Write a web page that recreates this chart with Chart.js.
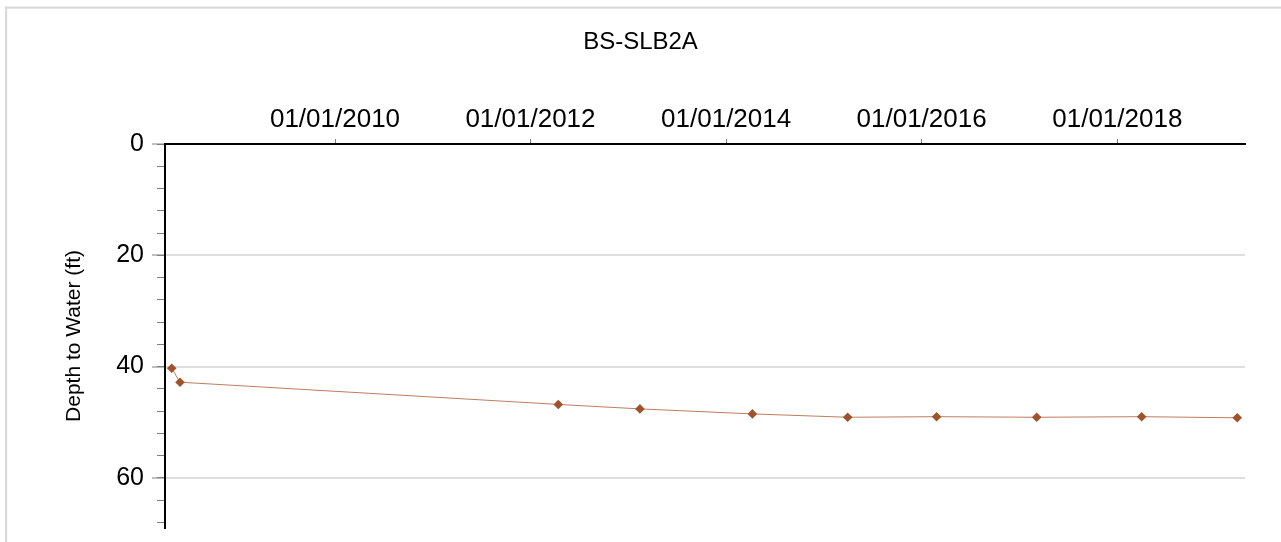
<!DOCTYPE html>
<html>
<head>
<meta charset="utf-8">
<title>BS-SLB2A</title>
<script src="https://cdn.jsdelivr.net/npm/chart.js@4/dist/chart.umd.min.js"></script>
<style>
  html, body { margin: 0; padding: 0; background: #ffffff; overflow: hidden; }
  #wrap { position: relative; width: 1281px; height: 542px; }
  canvas { display: block; }
</style>
</head>
<body>
<div id="wrap"><canvas id="chart" width="1281" height="542"></canvas></div>
<script>
// Well BS-SLB2A: measurement dates and depth to water (ft below ground)
const measureDates = ['2008-05-01', '2008-06-01', '2012-04-14', '2013-02-13', '2014-04-09',
                      '2015-03-31', '2016-02-26', '2017-03-06', '2018-04-02', '2019-03-25'];
const depthFt = [40.3, 42.8, 46.8, 47.6, 48.5, 49.1, 49.0, 49.1, 49.0, 49.2];

// Date axis labels along the top edge
const dateTicks = ['2010-01-01', '2012-01-01', '2014-01-01', '2016-01-01', '2018-01-01'];
// Depth axis: labelled every 20 ft, minor marks every 4 ft
const depthMajorStep = 20;
const depthMinorStep = 4;

const xMin = Date.UTC(2008, 3, 6);
const xMax = Date.UTC(2019, 3, 23);
const yMax = 69;

const toTime = s => new Date(s + 'T00:00:00Z').getTime();
const fmtDate = v => {
  const d = new Date(v);
  const mm = String(d.getUTCMonth() + 1).padStart(2, '0');
  const dd = String(d.getUTCDate()).padStart(2, '0');
  return mm + '/' + dd + '/' + d.getUTCFullYear();
};

const points = measureDates.map((s, i) => ({ x: toTime(s), y: depthFt[i] }));

// Light grey frame around the figure
const framePlugin = {
  id: 'frame',
  beforeDraw(chart) {
    const c = chart.ctx;
    c.save();
    c.fillStyle = '#ffffff';
    c.fillRect(0, 0, chart.width, chart.height);
    c.fillStyle = '#d9d9d9';
    c.fillRect(5, 6.5, 2.2, chart.height);
    c.fillRect(5, 6.5, chart.width, 2.2);
    c.restore();
  }
};

// Keep axis boxes from reserving room for label overhang
const noOverhang = scale => {
  scale.paddingTop = 0;
  scale.paddingBottom = 0;
  scale.paddingLeft = 0;
  scale.paddingRight = 0;
};

const FONT = "'Liberation Sans', Arial, Helvetica, sans-serif";

new Chart(document.getElementById('chart'), {
  type: 'line',
  data: {
    datasets: [{
      label: 'Depth to Water (ft)',
      data: points,
      borderColor: '#bd7d62',
      borderWidth: 1,
      backgroundColor: '#a0522d',
      pointStyle: 'rectRot',
      pointRadius: 4.8,
      pointBorderWidth: 0,
      pointBackgroundColor: '#a0522d',
      tension: 0,
      yAxisID: 'y'
    }]
  },
  plugins: [framePlugin],
  options: {
    responsive: false,
    animation: false,
    events: [],
    layout: { padding: { left: 0, top: 0, right: 0, bottom: 14 } },
    plugins: {
      legend: { display: false },
      tooltip: { enabled: false },
      title: {
        display: true,
        text: 'BS-SLB2A',
        color: '#000000',
        font: { family: FONT, size: 24, weight: 'normal' },
        padding: { top: 28, bottom: 9 }
      }
    },
    scales: {
      x: {
        type: 'linear',
        position: 'top',
        min: xMin,
        max: xMax,
        afterBuildTicks: scale => { scale.ticks = dateTicks.map(s => ({ value: toTime(s) })); },
        afterFit: scale => { scale.height = 78.2; noOverhang(scale); },
        ticks: {
          autoSkip: false,
          maxRotation: 0,
          padding: 4,
          color: '#000000',
          font: { family: FONT, size: 26 },
          callback: v => fmtDate(v)
        },
        grid: {
          drawOnChartArea: false,
          drawTicks: true,
          tickLength: 5,
          tickColor: '#808080',
          tickWidth: 1
        },
        border: { display: true, color: '#000000', width: 2 }
      },
      y: {
        type: 'linear',
        position: 'left',
        reverse: true,
        min: 0,
        max: yMax,
        weight: 1,
        afterFit: scale => { scale.width = 165; noOverhang(scale); },
        title: {
          display: true,
          text: 'Depth to Water (ft)',
          color: '#000000',
          font: { family: FONT, size: 21 },
          padding: { top: 62, bottom: 0 }
        },
        ticks: {
          stepSize: depthMajorStep,
          includeBounds: false,
          padding: 8,
          color: '#000000',
          font: { family: FONT, size: 25 }
        },
        grid: {
          drawTicks: true,
          tickLength: 13,
          tickColor: '#808080',
          tickWidth: 1,
          lineWidth: 2,
          color: ctx => (ctx.tick && ctx.tick.value !== 0 ? '#dedede' : 'rgba(0,0,0,0)')
        },
        border: { display: true, color: '#000000', width: 2 }
      },
      yMinor: {
        type: 'linear',
        position: 'left',
        reverse: true,
        min: 0,
        max: yMax,
        weight: 0,
        afterFit: scale => { scale.width = 0; noOverhang(scale); },
        ticks: {
          display: false,
          stepSize: depthMinorStep,
          includeBounds: false
        },
        grid: {
          drawOnChartArea: false,
          drawTicks: true,
          tickLength: 8,
          tickColor: '#808080',
          tickWidth: 1
        },
        border: { display: false }
      },
      // empty strip on the right so the plot ends short of the frame
      yRightGap: {
        type: 'linear',
        position: 'right',
        min: 0,
        max: yMax,
        afterFit: scale => { scale.width = 36; noOverhang(scale); },
        ticks: { display: false },
        grid: { display: false, drawTicks: false },
        border: { display: false }
      }
    }
  }
});
</script>
</body>
</html>
